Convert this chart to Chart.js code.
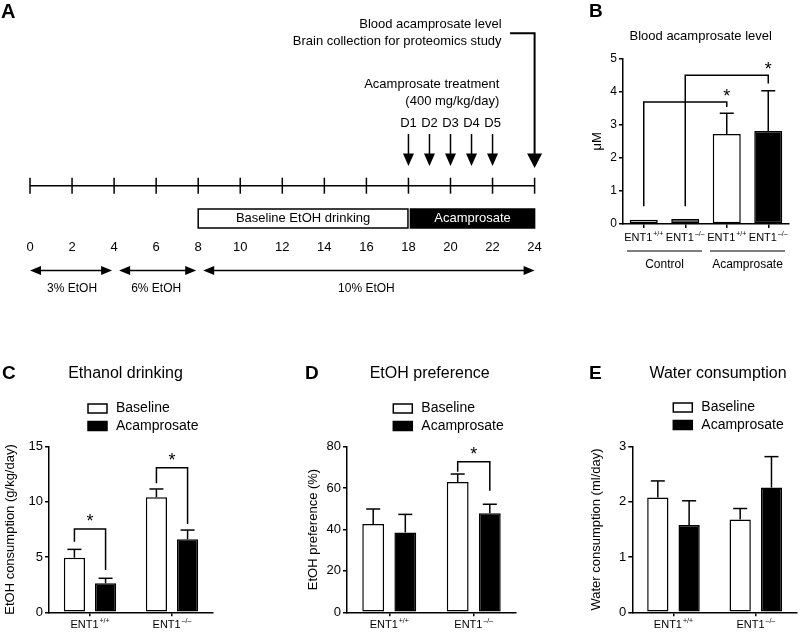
<!DOCTYPE html>
<html>
<head>
<meta charset="utf-8">
<title>ENT1 acamprosate figure</title>
<script src="https://cdn.jsdelivr.net/npm/chart.js@4.4.1/dist/chart.umd.min.js"></script>
<style>
  body { margin: 0; background: #fff; }
  #fig { position: relative; width: 800px; height: 633px; overflow: hidden; background: #fff; }
  #fig canvas { position: absolute; }
</style>
</head>
<body>
<div id="fig">
  <canvas id="panelA" width="560" height="300" style="left:0;top:0"></canvas>
  <canvas id="panelB" width="240" height="300" style="left:560px;top:0"></canvas>
  <canvas id="panelC" width="270" height="313" style="left:0;top:320px"></canvas>
  <canvas id="panelD" width="260" height="313" style="left:270px;top:320px"></canvas>
  <canvas id="panelE" width="270" height="313" style="left:530px;top:320px"></canvas>
</div>
<script>
// A: experiment timeline (days)
const timeTicks = [0, 2, 4, 6, 8, 10, 12, 14, 16, 18, 20, 22, 24];
const phaseLabels = ['Baseline EtOH drinking', 'Acamprosate'];
const phaseStart = [8, 18];
const phaseEnd = [18, 24];
const doseDays = [18, 19, 20, 21, 22];
const doseLabels = ['D1', 'D2', 'D3', 'D4', 'D5'];
const collectDay = 24;
const etohLabels = ['3% EtOH', '6% EtOH', '10% EtOH'];
const etohStart = [0, 4, 8];
const etohEnd = [4, 8, 24];

// B: blood acamprosate (uM)
const bloodLabels = ['ENT1+/+', 'ENT1\u2013/\u2013', 'ENT1+/+', 'ENT1\u2013/\u2013'];
const bloodGroups = ['Control', 'Acamprosate'];
const bloodMean = [0.13, 0.15, 2.72, 2.81];
const bloodErr = [0, 0, 0.63, 1.22];
const bloodSigFrom = [0, 1];
const bloodSigTo = [2, 3];
const bloodSigLow = [0.54, 0.54];
const bloodSigTop = [3.69, 4.5];
const bloodSigEnd = [3.54, 4.25];

// C-E: baseline vs acamprosate per genotype
const genotypes = ['ENT1+/+', 'ENT1\u2013/\u2013'];
const drinkBase = [4.95, 10.42];
const drinkBaseErr = [0.75, 0.75];
const drinkAcam = [2.63, 6.61];
const drinkAcamErr = [0.45, 0.84];
const drinkSigGroup = [0, 1];
const drinkSigLow = [6.4, 11.7];
const drinkSigTop = [7.55, 13.1];
const drinkSigEnd = [3.83, 8.0];

const prefBase = [42.7, 62.9];
const prefBaseErr = [7.2, 3.9];
const prefAcam = [38.6, 47.8];
const prefAcamErr = [8.7, 4.4];
const prefSigGroup = [1];
const prefSigLow = [67.9];
const prefSigTop = [72.7];
const prefSigEnd = [58.7];

const waterBase = [2.08, 1.68];
const waterBaseErr = [0.30, 0.20];
const waterAcam = [1.58, 2.26];
const waterAcamErr = [0.44, 0.56];

const FONT = '"Liberation Sans", Arial, Helvetica, sans-serif';
Chart.defaults.font.family = FONT;
Chart.defaults.color = '#000';

function seg(ctx, x0, y0, x1, y1) {
    ctx.beginPath(); ctx.moveTo(x0, y0); ctx.lineTo(x1, y1); ctx.stroke();
}
function tri(ctx, pts) {
    ctx.beginPath(); ctx.moveTo(pts[0][0], pts[0][1]);
    ctx.lineTo(pts[1][0], pts[1][1]); ctx.lineTo(pts[2][0], pts[2][1]);
    ctx.closePath(); ctx.fill();
}
function text(ctx, s, x, y, size, align, weight, baseline) {
    ctx.font = (weight || 'normal') + ' ' + size + 'px ' + FONT;
    ctx.textAlign = align || 'center';
    ctx.textBaseline = baseline || 'middle';
    ctx.fillText(s, x, y);
}
// "ENT1" with the genotype as superscript
function genoLabel(ctx, label, cx, cy, size) {
    const base = label.slice(0, 4), sup = label.slice(4);
    const small = Math.round(size * 0.62);
    ctx.font = size + 'px ' + FONT;
    const w1 = ctx.measureText(base).width;
    ctx.font = small + 'px ' + FONT;
    const w2 = ctx.measureText(sup).width;
    const x0 = cx - (w1 + w2 + 1) / 2;
    text(ctx, base, x0, cy, size, 'left');
    text(ctx, sup, x0 + w1 + 1, cy - size * 0.32, small, 'left');
}

// ---------- panel A ----------
const timelinePlugin = {
    id: 'timeline',
    afterDraw(chart) {
        const ctx = chart.ctx, sx = chart.scales.x;
        const x = v => sx.getPixelForValue(v);
        const lineY = 185.7;
        ctx.save();
        ctx.strokeStyle = '#000'; ctx.fillStyle = '#000'; ctx.lineWidth = 1.5;
        text(ctx, 'A', 1, 18, 20, 'left', 'bold', 'alphabetic');

        seg(ctx, x(timeTicks[0]), lineY, x(timeTicks[timeTicks.length - 1]), lineY);
        timeTicks.forEach(t => seg(ctx, x(t), lineY - 8, x(t), lineY + 8));

        phaseLabels.forEach((label, i) => {
            const x0 = x(phaseStart[i]) + (i ? 2 : 0);
            const x1 = x(phaseEnd[i]) - (i ? 0 : 0.5);
            ctx.fillStyle = i ? '#000' : '#fff';
            ctx.fillRect(x0, 209, x1 - x0, 19);
            ctx.strokeRect(x0, 209, x1 - x0, 19);
            ctx.fillStyle = i ? '#fff' : '#000';
            text(ctx, label, (x0 + x1) / 2, 218.8, 13);
        });

        ctx.fillStyle = '#000';
        doseDays.forEach((d, i) => {
            const px = x(d);
            text(ctx, doseLabels[i], px, 123.6, 13);
            seg(ctx, px, 134, px, 158);
            tri(ctx, [[px - 5.5, 153.6], [px + 5.5, 153.6], [px, 166]]);
        });
        text(ctx, 'Acamprosate treatment', x(collectDay) - 35.3, 84.6, 13, 'right');
        text(ctx, '(400 mg/kg/day)', x(collectDay) - 35.3, 101.4, 13, 'right');

        const cx = x(collectDay);
        ctx.lineWidth = 2;
        ctx.beginPath(); ctx.moveTo(cx - 24.6, 33.2); ctx.lineTo(cx, 33.2); ctx.lineTo(cx, 156); ctx.stroke();
        tri(ctx, [[cx - 7.5, 153.6], [cx + 7.5, 153.6], [cx, 168]]);
        text(ctx, 'Blood acamprosate level', cx - 33, 24.6, 13, 'right');
        text(ctx, 'Brain collection for proteomics study', cx - 33, 41, 13, 'right');

        ctx.lineWidth = 1.5;
        etohLabels.forEach((label, i) => {
            const a = x(etohStart[i]) + (i ? 5 : 0);
            const b = x(etohEnd[i]) - (i < 2 ? 2 : 0);
            const y = 270.4;
            seg(ctx, a + 6, y, b - 6, y);
            tri(ctx, [[a, y], [a + 11, y - 4.5], [a + 11, y + 4.5]]);
            tri(ctx, [[b, y], [b - 11, y - 4.5], [b - 11, y + 4.5]]);
            text(ctx, label, (x(etohStart[i]) + x(etohEnd[i])) / 2, 288.6, 12);
        });
        ctx.restore();
    }
};

new Chart(document.getElementById('panelA'), {
    type: 'scatter',
    data: { datasets: [] },
    options: {
        responsive: false, animation: false, devicePixelRatio: 1,
        layout: { padding: { left: 30, right: 25.4, top: 0, bottom: 0 } },
        plugins: { legend: { display: false }, tooltip: { enabled: false } },
        scales: {
            x: {
                type: 'linear', min: 0, max: 24,
                afterBuildTicks: axis => { axis.ticks = timeTicks.map(v => ({ value: v })); },
                grid: { display: false, drawTicks: false },
                border: { display: false },
                ticks: { font: { size: 13 }, padding: 0, maxRotation: 0, autoSkip: false, color: '#000' },
                afterFit: axis => { axis.height = 60; }
            },
            y: { display: false, min: 0, max: 1 }
        }
    },
    plugins: [timelinePlugin]
});

// ---------- bar panels ----------
const errorBarPlugin = {
    id: 'errorBars',
    afterDatasetsDraw(chart) {
        const ctx = chart.ctx, sy = chart.scales.y;
        ctx.save(); ctx.strokeStyle = '#000'; ctx.lineWidth = 1.5;
        chart.data.datasets.forEach((ds, i) => {
            chart.getDatasetMeta(i).data.forEach((bar, j) => {
                const e = ds.errors[j];
                if (!e) return;
                const top = sy.getPixelForValue(ds.data[j] + e);
                seg(ctx, bar.x, bar.y, bar.x, top);
                seg(ctx, bar.x - 7, top, bar.x + 7, top);
            });
        });
        ctx.restore();
    }
};

function decorPlugin(p) {
    return {
        id: 'decor',
        afterDraw(chart) {
            const ctx = chart.ctx, sx = chart.scales.x, sy = chart.scales.y;
            ctx.save();
            ctx.fillStyle = '#000'; ctx.strokeStyle = '#000'; ctx.lineWidth = 1.5;
            text(ctx, p.letter.text, p.letter.x, p.letter.y, 19, 'left', 'bold', 'alphabetic');
            text(ctx, p.title.text, p.title.x, p.title.y, p.title.size);

            if (p.legend) {
                chart.data.datasets.forEach((ds, i) => {
                    const y = p.legend.y + i * 17.5;
                    ctx.fillStyle = ds.backgroundColor;
                    ctx.fillRect(p.legend.x, y, 19, 9);
                    ctx.strokeRect(p.legend.x, y, 19, 9);
                    ctx.fillStyle = '#000';
                    text(ctx, ds.label, p.legend.x + 28, y + 4.5, 14, 'left');
                });
            }

            chart.data.labels.forEach((lab, i) => genoLabel(ctx, lab, sx.getPixelForValue(i), p.labelY, p.labelSize));

            if (p.groups) {
                const half = (sx.getPixelForValue(1) - sx.getPixelForValue(0)) / 2;
                ctx.lineWidth = 1.2;
                p.groups.forEach((g, k) => {
                    const left = sx.getPixelForValue(k * 2) - half + 4;
                    const right = sx.getPixelForValue(k * 2 + 1) + half - 4;
                    seg(ctx, left, p.groupLineY, right, p.groupLineY);
                    text(ctx, g, (left + right) / 2, p.groupLabelY, 12);
                });
                ctx.lineWidth = 1.5;
            }

            (p.brackets || []).forEach(b => {
                const xa = chart.getDatasetMeta(b.a[0]).data[b.a[1]].x;
                const xb = chart.getDatasetMeta(b.b[0]).data[b.b[1]].x;
                const yl = sy.getPixelForValue(b.low);
                const yt = sy.getPixelForValue(b.top);
                const ye = sy.getPixelForValue(b.end);
                ctx.beginPath(); ctx.moveTo(xa, yl); ctx.lineTo(xa, yt); ctx.lineTo(xb, yt); ctx.lineTo(xb, ye); ctx.stroke();
                const sxp = b.starAtEnd ? xb : (xa + xb) / 2;
                text(ctx, '*', sxp, yt - b.gap + 10, 18, 'center', 'normal', 'alphabetic');
            });
            ctx.restore();
        }
    };
}

function barPanel(id, p) {
    return new Chart(document.getElementById(id), {
        type: 'bar',
        data: {
            labels: p.labels,
            datasets: p.datasets.map(d => Object.assign({
                borderColor: '#000', borderWidth: 1.5, borderSkipped: false,
                categoryPercentage: p.catPct, barPercentage: p.barPct
            }, d))
        },
        options: {
            responsive: false, animation: false, devicePixelRatio: 1,
            layout: { padding: p.padding },
            plugins: { legend: { display: false }, tooltip: { enabled: false } },
            scales: {
                x: {
                    grid: { offset: false, drawOnChartArea: false, drawTicks: true, tickLength: 4, color: '#000', lineWidth: 1.5 },
                    border: { color: '#000', width: 1.5 },
                    ticks: { display: false },
                    afterFit: axis => { axis.height = p.xHeight; }
                },
                y: {
                    min: 0, max: p.max,
                    ticks: { stepSize: p.step, font: { size: p.tickSize }, color: '#000', padding: 2 },
                    grid: { drawOnChartArea: false, tickLength: 4, color: '#000', lineWidth: 1.5 },
                    border: { color: '#000', width: 1.5 },
                    title: { display: true, text: p.yTitle, font: { size: 13 }, color: '#000', padding: { top: 3, bottom: 0 } },
                    afterFit: axis => { axis.width = p.yWidth; }
                }
            }
        },
        plugins: [errorBarPlugin, decorPlugin(p)]
    });
}

barPanel('panelB', {
    labels: bloodLabels,
    datasets: [{ data: bloodMean, errors: bloodErr, backgroundColor: ['#fff', '#3c3c3c', '#fff', '#000'] }],
    max: 5, step: 1, tickSize: 12, yTitle: '\u03bcM', yWidth: 36.5,
    padding: { left: 26.5, right: 11, top: 58.7, bottom: 0 }, xHeight: 76,
    catPct: 1, barPct: 0.675,
    letter: { text: 'B', x: 29, y: 17 },
    title: { text: 'Blood acamprosate level', x: 140.7, y: 36, size: 13 },
    labelY: 238, labelSize: 11,
    groups: bloodGroups, groupLineY: 251, groupLabelY: 265,
    brackets: bloodSigFrom.map((f, k) => ({
        a: [0, f], b: [0, bloodSigTo[k]], low: bloodSigLow[k], top: bloodSigTop[k], end: bloodSigEnd[k], starAtEnd: true, gap: 10
    }))
});

function pairSets(base, baseErr, acam, acamErr) {
    return [
        { label: 'Baseline', data: base, errors: baseErr, backgroundColor: '#fff' },
        { label: 'Acamprosate', data: acam, errors: acamErr, backgroundColor: '#000' }
    ];
}
function pairBrackets(groups, low, top, end) {
    return groups.map((g, k) => ({ a: [0, g], b: [1, g], low: low[k], top: top[k], end: end[k], starAtEnd: false, gap: 12 }));
}

barPanel('panelC', {
    labels: genotypes,
    datasets: pairSets(drinkBase, drinkBaseErr, drinkAcam, drinkAcamErr),
    max: 15, step: 5, tickSize: 13, yTitle: 'EtOH consumption (g/kg/day)', yWidth: 49,
    padding: { left: 0, right: 57, top: 126.7, bottom: 0 }, xHeight: 20.7,
    catPct: 0.76, barPct: 0.68,
    letter: { text: 'C', x: 2, y: 59 },
    title: { text: 'Ethanol drinking', x: 125.5, y: 54, size: 16 },
    legend: { x: 88, y: 84 },
    labelY: 305, labelSize: 11,
    brackets: pairBrackets(drinkSigGroup, drinkSigLow, drinkSigTop, drinkSigEnd)
});

barPanel('panelD', {
    labels: genotypes,
    datasets: pairSets(prefBase, prefBaseErr, prefAcam, prefAcamErr),
    max: 80, step: 20, tickSize: 13, yTitle: 'EtOH preference (%)', yWidth: 44.8,
    padding: { left: 32.2, right: 14, top: 126.7, bottom: 0 }, xHeight: 20.7,
    catPct: 0.76, barPct: 0.68,
    letter: { text: 'D', x: 35, y: 59 },
    title: { text: 'EtOH preference', x: 159.7, y: 54, size: 16 },
    legend: { x: 123.3, y: 84 },
    labelY: 305, labelSize: 11,
    brackets: pairBrackets(prefSigGroup, prefSigLow, prefSigTop, prefSigEnd)
});

barPanel('panelE', {
    labels: genotypes,
    datasets: pairSets(waterBase, waterBaseErr, waterAcam, waterAcamErr),
    max: 3, step: 1, tickSize: 13, yTitle: 'Water consumption (ml/day)', yWidth: 46.4,
    padding: { left: 55.9, right: 3, top: 126.7, bottom: 0 }, xHeight: 20.7,
    catPct: 0.76, barPct: 0.68,
    letter: { text: 'E', x: 59, y: 59 },
    title: { text: 'Water consumption', x: 188, y: 54, size: 16 },
    legend: { x: 143.3, y: 83 },
    labelY: 305, labelSize: 11
});
</script>
</body>
</html>
